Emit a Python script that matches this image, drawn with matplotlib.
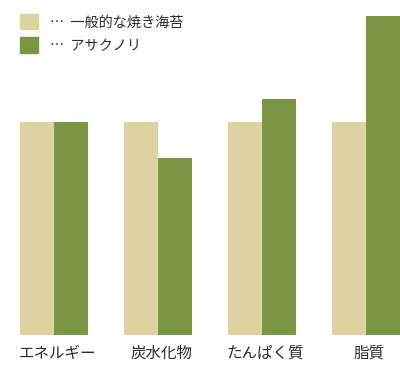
import numpy as np
import matplotlib.pyplot as plt
from matplotlib.patches import Patch

plt.rcParams['font.family'] = ['Noto Sans CJK JP', 'DejaVu Sans']

categories = ['エネルギー', '炭水化物', 'たんぱく質', '脂質']
normal_nori = [100, 100, 100, 100]
asakusa_nori = [100, 83, 111, 150]
series_labels = ['…  一般的な焼き海苔', '…  アサクノリ']

c_beige = '#ddd3a1'
c_green = '#7a9644'
txt = '#2b2b2b'

W, H = 400, 380
fig = plt.figure(figsize=(W / 100, H / 100), dpi=100)
base_y, top_y = 335, 16
ax = fig.add_axes([0, (H - base_y) / H, 1, (base_y - top_y) / H])

x = np.arange(len(categories))
w = 34 / 104
ax.bar(x - w / 2, normal_nori, w, color=c_beige, label=series_labels[0])
ax.bar(x + w / 2, asakusa_nori, w, color=c_green, label=series_labels[1])

ax.set_xlim(-54 / 104, (W - 54) / 104)
ax.set_ylim(0, 150)
for s in ax.spines.values():
    s.set_visible(False)
ax.set_yticks([])
ax.set_xticks(x + 3 / 104)
ax.set_xticklabels(categories, fontsize=11.2, color=txt)
ax.tick_params(axis='x', length=0, pad=7)

leg = ax.legend(handles=[Patch(color=c_beige), Patch(color=c_green)],
                labels=series_labels, loc='upper left',
                bbox_to_anchor=(20 / W, 1 - 14 / H), bbox_transform=fig.transFigure,
                frameon=False, fontsize=10.2, handlelength=1.3, handleheight=1.3,
                handletextpad=0.85, labelspacing=0.55, borderpad=0, borderaxespad=0)
for t in leg.get_texts():
    t.set_color(txt)

fig.savefig('out.png', dpi=100)
